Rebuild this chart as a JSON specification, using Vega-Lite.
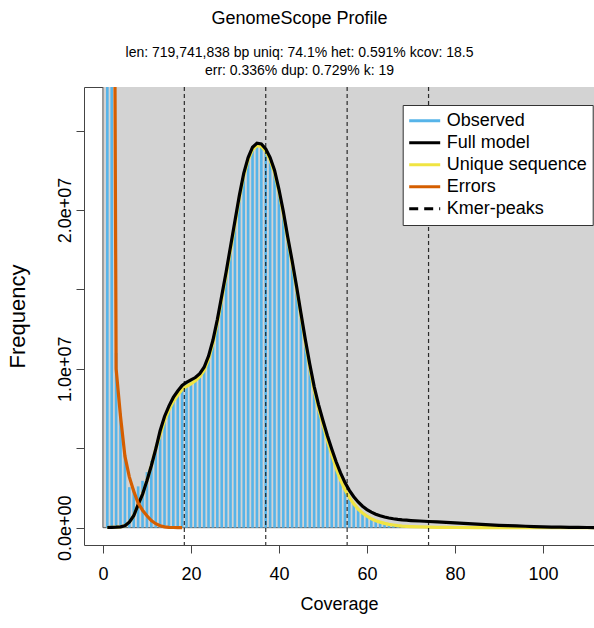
{
"$schema": "https://vega.github.io/schema/vega-lite/v6.json",
"width": 510, "height": 458,
"autosize": {"type": "none"},
"padding": {"left": 84, "top": 87, "right": 0, "bottom": 83},
"background": "white",
"title": {"text": "GenomeScope Profile", "subtitle": ["len:  719,741,838 bp uniq: 74.1% het: 0.591% kcov: 18.5", "err: 0.336% dup: 0.729% k: 19\u00a0\u00a0\u00a0\u00a0\u00a0\u00a0\u00a0\u00a0\u00a0\u00a0\u00a0"], "font": "Liberation Sans", "fontSize": 18, "fontWeight": "normal", "color": "#000000", "subtitleFont": "Liberation Sans", "subtitleFontSize": 14, "subtitleColor": "#000000", "subtitleLineHeight": 18, "subtitlePadding": 18, "anchor": "middle", "frame": "group", "dx": -39.5, "offset": 9},
"datasets": {
"bg": [{"coverage": 0, "coverage_end": 200, "frequency": 0, "frequency_end": 100000000}],
"observed": [
{"coverage":1,"frequency":300000000},{"coverage":2,"frequency":60000000},{"coverage":3,"frequency":11000000},{"coverage":4,"frequency":7200000},{"coverage":5,"frequency":4600000},{"coverage":6,"frequency":2550000},{"coverage":7,"frequency":2450000},{"coverage":8,"frequency":2600000},{"coverage":9,"frequency":2950000},{"coverage":10,"frequency":3500000},
{"coverage":11,"frequency":4200000},{"coverage":12,"frequency":5100000},{"coverage":13,"frequency":6050000},{"coverage":14,"frequency":6950000},{"coverage":15,"frequency":7600000},{"coverage":16,"frequency":8150000},{"coverage":17,"frequency":8550000},{"coverage":18,"frequency":8900000},{"coverage":19,"frequency":9100000},{"coverage":20,"frequency":9250000},
{"coverage":21,"frequency":9400000},{"coverage":22,"frequency":9650000},{"coverage":23,"frequency":10050000},{"coverage":24,"frequency":10750000},{"coverage":25,"frequency":11750000},{"coverage":26,"frequency":13050000},{"coverage":27,"frequency":14550000},{"coverage":28,"frequency":16050000},{"coverage":29,"frequency":17650000},{"coverage":30,"frequency":19250000},
{"coverage":31,"frequency":20850000},{"coverage":32,"frequency":22250000},{"coverage":33,"frequency":23250000},{"coverage":34,"frequency":23900000},{"coverage":35,"frequency":24150000},{"coverage":36,"frequency":24100000},{"coverage":37,"frequency":23800000},{"coverage":38,"frequency":23250000},{"coverage":39,"frequency":22450000},{"coverage":40,"frequency":21250000},
{"coverage":41,"frequency":19850000},{"coverage":42,"frequency":18250000},{"coverage":43,"frequency":16750000},{"coverage":44,"frequency":15150000},{"coverage":45,"frequency":13450000},{"coverage":46,"frequency":11800000},{"coverage":47,"frequency":10250000},{"coverage":48,"frequency":8850000},{"coverage":49,"frequency":7700000},{"coverage":50,"frequency":6700000},
{"coverage":51,"frequency":5550000},{"coverage":52,"frequency":4650000},{"coverage":53,"frequency":3800000},{"coverage":54,"frequency":3050000},{"coverage":55,"frequency":2450000},{"coverage":56,"frequency":1950000},{"coverage":57,"frequency":1550000},{"coverage":58,"frequency":1200000},{"coverage":59,"frequency":950000},{"coverage":60,"frequency":740000},
{"coverage":61,"frequency":580000},{"coverage":62,"frequency":450000},{"coverage":63,"frequency":360000},{"coverage":64,"frequency":280000},{"coverage":65,"frequency":220000},{"coverage":66,"frequency":180000},{"coverage":67,"frequency":140000},{"coverage":68,"frequency":110000},{"coverage":69,"frequency":90000},{"coverage":70,"frequency":75000},
{"coverage":71,"frequency":65000},{"coverage":72,"frequency":55000},{"coverage":73,"frequency":45000},{"coverage":74,"frequency":40000},{"coverage":75,"frequency":35000},{"coverage":76,"frequency":30000},{"coverage":77,"frequency":25000},{"coverage":78,"frequency":20000},{"coverage":79,"frequency":18000},{"coverage":80,"frequency":15000},
{"coverage":81,"frequency":13000},{"coverage":82,"frequency":12000},{"coverage":83,"frequency":11000},{"coverage":84,"frequency":10000},{"coverage":85,"frequency":9000},{"coverage":86,"frequency":8000},{"coverage":87,"frequency":7000},{"coverage":88,"frequency":6000},{"coverage":89,"frequency":5000},{"coverage":90,"frequency":4000}
],
"full": [
{"coverage":1,"frequency":10000},{"coverage":2,"frequency":20000},{"coverage":3,"frequency":30000},{"coverage":4,"frequency":50000},{"coverage":5,"frequency":120000},{"coverage":6,"frequency":350000},{"coverage":7,"frequency":750000},{"coverage":8,"frequency":1450000},{"coverage":9,"frequency":2100000},{"coverage":10,"frequency":2950000},
{"coverage":11,"frequency":3900000},{"coverage":12,"frequency":4950000},{"coverage":13,"frequency":6100000},{"coverage":14,"frequency":7000000},{"coverage":15,"frequency":7650000},{"coverage":16,"frequency":8200000},{"coverage":17,"frequency":8600000},{"coverage":18,"frequency":8950000},{"coverage":19,"frequency":9150000},{"coverage":20,"frequency":9300000},
{"coverage":21,"frequency":9450000},{"coverage":22,"frequency":9700000},{"coverage":23,"frequency":10100000},{"coverage":24,"frequency":10800000},{"coverage":25,"frequency":11800000},{"coverage":26,"frequency":13100000},{"coverage":27,"frequency":14600000},{"coverage":28,"frequency":16100000},{"coverage":29,"frequency":17700000},{"coverage":30,"frequency":19300000},
{"coverage":31,"frequency":20900000},{"coverage":32,"frequency":22300000},{"coverage":33,"frequency":23300000},{"coverage":34,"frequency":23950000},{"coverage":35,"frequency":24200000},{"coverage":36,"frequency":24150000},{"coverage":37,"frequency":23850000},{"coverage":38,"frequency":23300000},{"coverage":39,"frequency":22500000},{"coverage":40,"frequency":21300000},
{"coverage":41,"frequency":19900000},{"coverage":42,"frequency":18300000},{"coverage":43,"frequency":16800000},{"coverage":44,"frequency":15200000},{"coverage":45,"frequency":13500000},{"coverage":46,"frequency":11850000},{"coverage":47,"frequency":10300000},{"coverage":48,"frequency":8900000},{"coverage":49,"frequency":7750000},{"coverage":50,"frequency":6750000},
{"coverage":51,"frequency":5800000},{"coverage":52,"frequency":4950000},{"coverage":53,"frequency":4150000},{"coverage":54,"frequency":3450000},{"coverage":55,"frequency":2850000},{"coverage":56,"frequency":2350000},{"coverage":57,"frequency":1950000},{"coverage":58,"frequency":1620000},{"coverage":59,"frequency":1350000},{"coverage":60,"frequency":1140000},
{"coverage":61,"frequency":980000},{"coverage":62,"frequency":850000},{"coverage":63,"frequency":750000},{"coverage":64,"frequency":670000},{"coverage":65,"frequency":610000},{"coverage":66,"frequency":560000},{"coverage":67,"frequency":520000},{"coverage":68,"frequency":490000},{"coverage":69,"frequency":470000},{"coverage":70,"frequency":450000},
{"coverage":72,"frequency":420000},{"coverage":74,"frequency":390000},{"coverage":76,"frequency":360000},{"coverage":78,"frequency":330000},{"coverage":80,"frequency":300000},{"coverage":82,"frequency":270000},{"coverage":84,"frequency":240000},{"coverage":86,"frequency":210000},{"coverage":88,"frequency":180000},{"coverage":90,"frequency":150000},
{"coverage":92,"frequency":130000},{"coverage":94,"frequency":110000},{"coverage":96,"frequency":90000},{"coverage":98,"frequency":70000},{"coverage":100,"frequency":50000},{"coverage":102,"frequency":40000},{"coverage":104,"frequency":30000},{"coverage":106,"frequency":20000},{"coverage":108,"frequency":15000},{"coverage":110,"frequency":10000},{"coverage":112,"frequency":5000}
],
"unique": [
{"coverage":1,"frequency":10000},{"coverage":2,"frequency":20000},{"coverage":3,"frequency":30000},{"coverage":4,"frequency":50000},{"coverage":5,"frequency":120000},{"coverage":6,"frequency":350000},{"coverage":7,"frequency":750000},{"coverage":8,"frequency":1450000},{"coverage":9,"frequency":2100000},{"coverage":10,"frequency":2950000},
{"coverage":11,"frequency":3900000},{"coverage":12,"frequency":4950000},{"coverage":13,"frequency":5850000},{"coverage":14,"frequency":6750000},{"coverage":15,"frequency":7400000},{"coverage":16,"frequency":7950000},{"coverage":17,"frequency":8350000},{"coverage":18,"frequency":8700000},{"coverage":19,"frequency":8900000},{"coverage":20,"frequency":9050000},
{"coverage":21,"frequency":9250000},{"coverage":22,"frequency":9500000},{"coverage":23,"frequency":9900000},{"coverage":24,"frequency":10600000},{"coverage":25,"frequency":11600000},{"coverage":26,"frequency":12900000},{"coverage":27,"frequency":14400000},{"coverage":28,"frequency":15900000},{"coverage":29,"frequency":17500000},{"coverage":30,"frequency":19100000},
{"coverage":31,"frequency":20750000},{"coverage":32,"frequency":22150000},{"coverage":33,"frequency":23150000},{"coverage":34,"frequency":23800000},{"coverage":35,"frequency":24050000},{"coverage":36,"frequency":24000000},{"coverage":37,"frequency":23700000},{"coverage":38,"frequency":23150000},{"coverage":39,"frequency":22350000},{"coverage":40,"frequency":21150000},
{"coverage":41,"frequency":19750000},{"coverage":42,"frequency":18150000},{"coverage":43,"frequency":16650000},{"coverage":44,"frequency":15050000},{"coverage":45,"frequency":13350000},{"coverage":46,"frequency":11650000},{"coverage":47,"frequency":10100000},{"coverage":48,"frequency":8650000},{"coverage":49,"frequency":7500000},{"coverage":50,"frequency":6500000},
{"coverage":51,"frequency":5500000},{"coverage":52,"frequency":4600000},{"coverage":53,"frequency":3750000},{"coverage":54,"frequency":3000000},{"coverage":55,"frequency":2400000},{"coverage":56,"frequency":1900000},{"coverage":57,"frequency":1500000},{"coverage":58,"frequency":1170000},{"coverage":59,"frequency":930000},{"coverage":60,"frequency":720000},
{"coverage":61,"frequency":560000},{"coverage":62,"frequency":440000},{"coverage":63,"frequency":350000},{"coverage":64,"frequency":270000},{"coverage":65,"frequency":210000},{"coverage":66,"frequency":170000},{"coverage":67,"frequency":130000},{"coverage":68,"frequency":100000},{"coverage":69,"frequency":85000},{"coverage":70,"frequency":70000},
{"coverage":72,"frequency":50000},{"coverage":74,"frequency":35000},{"coverage":76,"frequency":25000},{"coverage":78,"frequency":18000},{"coverage":80,"frequency":12000},{"coverage":85,"frequency":5000},{"coverage":90,"frequency":2000},{"coverage":100,"frequency":0},{"coverage":112,"frequency":0}
],
"errors": [
{"coverage":1,"frequency":400000000},{"coverage":2,"frequency":80000000},{"coverage":3,"frequency":10000000},{"coverage":4,"frequency":7000000},{"coverage":5,"frequency":4500000},{"coverage":6,"frequency":3200000},{"coverage":7,"frequency":2300000},{"coverage":8,"frequency":1550000},{"coverage":9,"frequency":1100000},{"coverage":10,"frequency":750000},
{"coverage":11,"frequency":450000},{"coverage":12,"frequency":250000},{"coverage":13,"frequency":120000},{"coverage":14,"frequency":50000},{"coverage":15,"frequency":20000},{"coverage":16,"frequency":10000},{"coverage":17,"frequency":0},{"coverage":18,"frequency":0}
],
"peaks": [{"coverage":18.5},{"coverage":37},{"coverage":55.5},{"coverage":74}]
},
"layer": [
{"data": {"name": "bg"},
 "mark": {"type": "rect", "fill": "#D3D3D3", "stroke": "#555555", "strokeWidth": 1, "clip": true},
 "encoding": {
  "x": {"field": "coverage", "type": "quantitative", "scale": {"domain": [-4.3, 111.6], "nice": false, "zero": false}, "axis": {"title": "Coverage", "values": [0,20,40,60,80,100]}},
  "x2": {"field": "coverage_end"},
  "y": {"field": "frequency", "type": "quantitative", "scale": {"domain": [-1090000, 27740000], "nice": false, "zero": false}, "axis": {"title": "Frequency", "values": [0,5000000,10000000,15000000,20000000,25000000], "labelExpr": "datum.value == 0 ? '0.0e+00' : datum.value == 10000000 ? '1.0e+07' : datum.value == 20000000 ? '2.0e+07' : ''"}},
  "y2": {"field": "frequency_end"}
 }},
{"data": {"name": "observed"},
 "mark": {"type": "rule", "strokeWidth": 2.6, "clip": true},
 "encoding": {
  "x": {"field": "coverage", "type": "quantitative", "axis": {"title": "Coverage"}},
  "y": {"field": "frequency", "type": "quantitative", "axis": {"title": "Frequency"}},
  "y2": {"datum": 0},
  "color": {"datum": "Observed", "scale": {"domain": ["Observed", "Full model", "Unique sequence", "Errors", "Kmer-peaks"], "range": ["#56B4E9", "#000000", "#F0E442", "#D55E00", "#000000"]},
   "legend": {"title": null, "orient": "none", "legendX": 318.7, "legendY": 18, "symbolType": "stroke", "symbolSize": 961, "symbolStrokeWidth": 3, "labelFont": "Liberation Sans", "labelFontSize": 18, "labelColor": "#000000", "padding": 5, "fillColor": "#FFFFFF", "strokeColor": "#333333", "rowPadding": 0, "clipHeight": 21.5, "labelOffset": 5, "symbolOffset": 0,
    "encode": {"symbols": {"update": {"strokeDash": {"signal": "datum.label === 'Kmer-peaks' ? [9, 6] : [1, 0]"}}}}}}
 }},
{"data": {"name": "unique"},
 "mark": {"type": "line", "strokeWidth": 3.2, "clip": true},
 "encoding": {
  "x": {"field": "coverage", "type": "quantitative", "axis": {"title": "Coverage"}},
  "y": {"field": "frequency", "type": "quantitative", "axis": {"title": "Frequency"}},
  "color": {"datum": "Unique sequence"}
 }},
{"data": {"name": "full"},
 "mark": {"type": "line", "strokeWidth": 3.2, "clip": true},
 "encoding": {
  "x": {"field": "coverage", "type": "quantitative", "axis": {"title": "Coverage"}},
  "y": {"field": "frequency", "type": "quantitative", "axis": {"title": "Frequency"}},
  "color": {"datum": "Full model"}
 }},
{"data": {"name": "errors"},
 "mark": {"type": "line", "strokeWidth": 3.2, "clip": true},
 "encoding": {
  "x": {"field": "coverage", "type": "quantitative", "axis": {"title": "Coverage"}},
  "y": {"field": "frequency", "type": "quantitative", "axis": {"title": "Frequency"}},
  "color": {"datum": "Errors"}
 }},
{"data": {"name": "peaks"},
 "mark": {"type": "rule", "strokeWidth": 1.2, "strokeDash": [4, 3], "opacity": 0.8, "clip": true},
 "encoding": {
  "x": {"field": "coverage", "type": "quantitative", "axis": {"title": "Coverage"}},
  "color": {"datum": "Kmer-peaks"}
 }}
],
"config": {
 "font": "Liberation Sans",
 "view": {"stroke": "#444444", "strokeWidth": 1},
 "axis": {"grid": false, "domain": false, "ticks": true, "tickSize": 8, "tickColor": "#444444", "tickWidth": 1, "labelFont": "Liberation Sans", "labelFontSize": 18, "labelColor": "#000000", "titleFont": "Liberation Sans", "titleFontSize": 18, "titleFontWeight": "normal", "titleColor": "#000000", "labelOverlap": false, "labelFlush": false},
 "axisX": {"labelPadding": 12, "titlePadding": 12},
 "axisY": {"labelAngle": 270, "labelAlign": "center", "labelBaseline": "alphabetic", "labelPadding": 6, "titlePadding": 27, "titleFontSize": 22}
}
}
